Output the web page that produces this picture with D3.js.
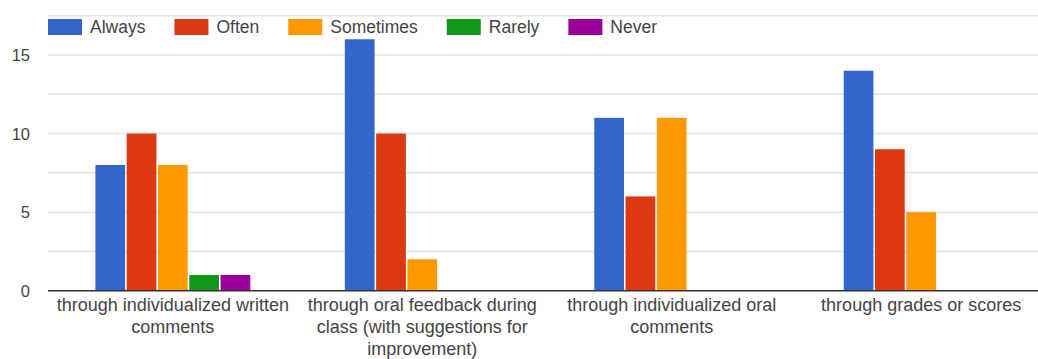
<!DOCTYPE html>
<html lang="en">
<head>
    <meta charset="UTF-8">
    <title>Feedback chart</title>
    <script src="https://cdn.jsdelivr.net/npm/d3@7/dist/d3.min.js"></script>
    <style>
        body {
            margin: 0;
            background: #fff;
        }

        svg {
            display: block;
            font-family: "Liberation Sans", Arial, sans-serif;
        }

        svg .grid line {
            stroke: #e3e3e3;
            stroke-width: 1.5;
        }

        svg .tick-label,
        svg .cat-label,
        svg .legend-item text {
            fill: #444;
        }
    </style>
</head>
<body>
<svg width="1038" height="359"></svg>
<script>

    var categories = [
        'through individualized written comments',
        'through oral feedback during class (with suggestions for improvement)',
        'through individualized oral comments',
        'through grades or scores'
    ];

    var seriesNames = ['Always', 'Often', 'Sometimes', 'Rarely', 'Never'];
    var seriesColors = ['#3366cc', '#dc3912', '#ff9900', '#109618', '#990099'];

    var always = [8, 16, 11, 14];
    var often = [10, 10, 6, 9];
    var sometimes = [8, 2, 11, 5];
    var rarely = [1, 0, 0, 0];
    var never = [1, 0, 0, 0];

    var yTicks = [0, 5, 10, 15];
    var yGrid = [0, 2.5, 5, 7.5, 10, 12.5, 15, 17.5];

    var seriesValues = [always, often, sometimes, rarely, never];

    var svg = d3.select('svg'),
        plotLeft = 48,
        plotRight = 1046,
        plotTop = 15.7,
        plotBottom = 290.7;

    var xScale = d3.scaleBand()
        .domain(categories)
        .range([plotLeft, plotRight])
        .paddingInner(0.379)
        .paddingOuter(0.19);

    var innerScale = d3.scaleBand()
        .domain(seriesNames)
        .range([0, xScale.bandwidth()])
        .paddingInner(0.05);

    var yScale = d3.scaleLinear().domain([0, 17.5]).range([plotBottom, plotTop]);

    var colorScale = d3.scaleOrdinal().domain(seriesNames).range(seriesColors);

    // grid lines
    svg.append('g')
        .classed('grid', true)
        .selectAll('line')
        .data(yGrid.filter(function(d) { return d !== 0; }))
        .enter()
        .append('line')
        .attr('x1', plotLeft)
        .attr('x2', 1038)
        .attr('y1', function(d) { return yScale(d); })
        .attr('y2', function(d) { return yScale(d); });

    // y tick labels
    svg.append('g')
        .selectAll('text')
        .data(yTicks)
        .enter()
        .append('text')
        .classed('tick-label', true)
        .attr('x', 30)
        .attr('y', function(d) { return yScale(d) + 6; })
        .attr('text-anchor', 'end')
        .style('font-size', '16.5px')
        .text(function(d) { return d; });

    // bars
    var rows = [];
    categories.forEach(function(cat, i) {
        seriesNames.forEach(function(name, j) {
            rows.push({ cat: cat, name: name, value: seriesValues[j][i] });
        });
    });

    svg.append('g')
        .selectAll('rect')
        .data(rows.filter(function(d) { return d.value > 0; }))
        .enter()
        .append('rect')
        .attr('x', function(d) { return xScale(d.cat) + innerScale(d.name); })
        .attr('y', function(d) { return yScale(d.value); })
        .attr('width', innerScale.bandwidth())
        .attr('height', function(d) { return yScale(0) - yScale(d.value); })
        .style('fill', function(d) { return colorScale(d.name); });

    // baseline
    svg.append('line')
        .attr('x1', plotLeft)
        .attr('x2', 1038)
        .attr('y1', yScale(0))
        .attr('y2', yScale(0))
        .style('stroke', '#333')
        .style('stroke-width', 1.5);

    // category labels
    var catLabel = svg.append('g')
        .selectAll('text')
        .data(categories)
        .enter()
        .append('text')
        .classed('cat-label', true)
        .attr('text-anchor', 'middle')
        .style('font-size', '18px')
        .attr('transform', function(d) {
            return 'translate(' + [xScale(d) + xScale.bandwidth() / 2, 311] + ')';
        })
        .text(function(d) { return d; });

    catLabel.each(function() { wrap(d3.select(this), 240); });

    // legend
    var legendX = 48;
    var legendItem = svg.append('g')
        .selectAll('.legend-item')
        .data(seriesNames)
        .enter()
        .append('g')
        .classed('legend-item', true);

    legendItem.append('rect')
        .attr('y', 19)
        .attr('width', 34)
        .attr('height', 16)
        .style('fill', function(d) { return colorScale(d); });

    legendItem.append('text')
        .attr('x', 42)
        .attr('y', 33)
        .style('font-size', '17.5px')
        .text(function(d) { return d; });

    legendItem.each(function() {
        var item = d3.select(this);
        item.attr('transform', 'translate(' + legendX + ',0)');
        legendX += 42 + item.select('text').node().getComputedTextLength() + 29;
    });

    function wrap(text, width) {
        var words = text.text().split(/\s+/),
            line = [],
            lineNo = 0,
            tspan = text.text(null).append('tspan').attr('x', 0).attr('dy', 0);

        words.forEach(function(word) {
            line.push(word);
            tspan.text(line.join(' '));
            if (tspan.node().getComputedTextLength() > width && line.length > 1) {
                line.pop();
                tspan.text(line.join(' '));
                line = [word];
                lineNo++;
                tspan = text.append('tspan').attr('x', 0).attr('dy', 22).text(word);
            }
        });
    }

</script>
</body>
</html>
